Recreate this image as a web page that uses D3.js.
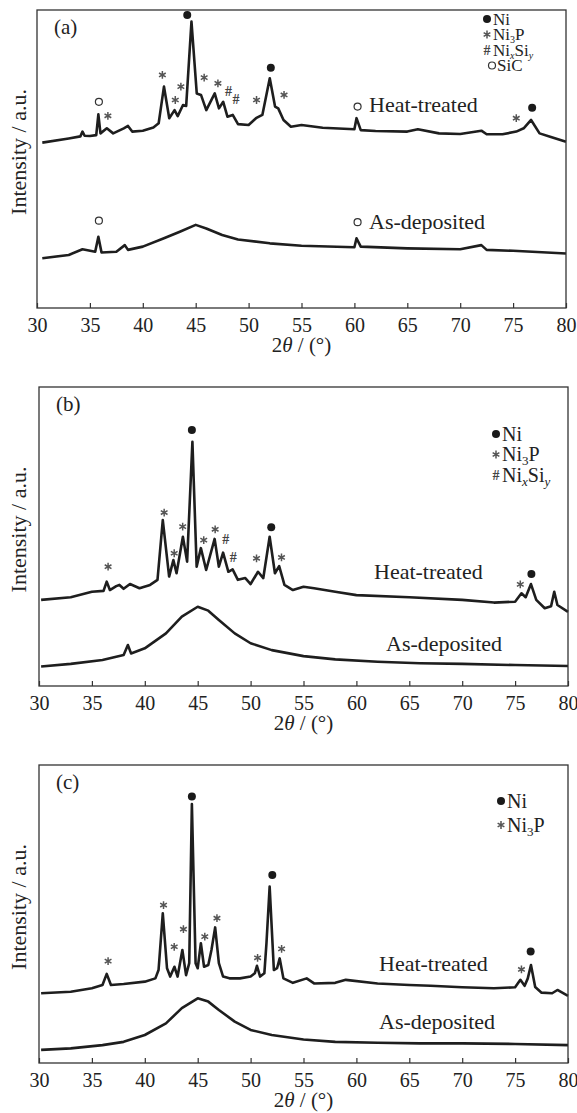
<!DOCTYPE html>
<html>
<head>
<meta charset="utf-8">
<script src="https://cdn.jsdelivr.net/npm/d3@7"></script>
<style>
  body { margin: 0; background: #fff; }
  svg text { font-family: "Liberation Serif", "Times New Roman", serif; fill: #222; }
</style>
</head>
<body>
<div id="chart"></div>
<script>
// x ticks (2theta, degrees)
const angleTicks = [30, 35, 40, 45, 50, 55, 60, 65, 70, 75, 80];

// ---- panel (a): [2theta, intensity a.u.] ----
const heatA = [[30.5,55.5],[33,56.9],[34.1,57.6],[34.3,59.2],[34.5,57.8],[35,57.7],[35.6,58],[35.8,65],[36,58.6],[36.6,60.3],
  [37.2,58.6],[38.2,60.3],[38.6,61.1],[39,59.2],[40,59.5],[41,60.6],[41.5,62],[42,74.3],[42.5,63.7],[43,66.4],
  [43.3,64.4],[43.8,68.1],[44.1,67.8],[44.6,96.1],[45.1,72],[45.5,71.5],[46,66.4],[46.8,72],[47.2,67],[47.6,69.2],
  [48,64.2],[48.5,64.8],[49,61.7],[50,61.4],[50.7,63.7],[51.3,64.8],[52,77.1],[52.5,67.6],[52.8,67],[53.3,63.1],
  [54,60.8],[55,61.4],[57,60.5],[60,60],[60.2,63.7],[60.6,59.7],[62,59.4],[65,59.2],[66,60],[68,58.6],[70,58.4],
  [72,59.5],[72.5,58.3],[74,58.3],[75.3,59.2],[76,60.3],[76.7,63.1],[77.5,58.6],[78.5,57.5],[80,55.8]];
const asDepA = [[30.5,16.7],[33,17.8],[34.3,19.7],[35.5,18.9],[35.8,23.9],[36.1,18.6],[37.5,18.9],[38.3,21.1],
  [38.6,19.5],[40,20.6],[42,23.4],[43.5,25.6],[45,27.9],[46,26.7],[47.5,24.5],[49,23],[52,21.7],[55,20.9],
  [60,20.4],[60.2,23.4],[60.6,20.6],[65,20],[70,19.7],[72,21.1],[72.5,19.5],[75,19.2],[80,18.3]];
const niA = [[44.2,98.3],[52.1,80.6],[76.8,67.2]];
const ni3pA = [[41.85,78.2],[43.07,69.8],[43.6,74.3],[45.8,77.3],[47.1,75.4],[50.75,69.8],[53.35,71.5],[36.7,64.5],[75.3,63.7]];
const nisiA = [[48.1,72.9],[48.8,70]];
const sicA = [[35.85,69.2],[60.3,67.6],[35.85,29.3],[60.3,28.8]];

// ---- panel (b) ----
const heatB = [[30.2,28.8],[33,29.7],[35,31.5],[36.1,31.8],[36.4,34.9],[36.7,32.1],[37.3,33.4],[37.6,33.8],[38,32.5],
  [38.6,34.1],[39.5,32.7],[40.5,33.8],[41.2,35.5],[41.7,55.5],[42.3,36.6],[42.7,42.1],[43,37.7],[43.6,49.9],
  [44,41.6],[44.5,81.7],[44.9,39.9],[45.3,46.1],[45.8,38.8],[46.6,49.2],[47,39.9],[47.4,44.6],[47.9,38.2],
  [48.3,39],[48.8,35.5],[49.5,36.1],[50,34.1],[50.7,38.2],[51.2,36.1],[51.8,49.9],[52.3,37.7],[52.7,40.1],
  [53.2,33.8],[54,32.1],[55,33.2],[56,32.7],[58,31.5],[60,30.4],[65,29.7],[70,28.8],[73,27.9],[75,28.2],
  [75.6,31],[76,29.7],[76.5,34.1],[77,28.8],[77.8,26],[78.4,26.7],[78.7,31.5],[79,27.1],[80,24.8]];
const asDepB = [[30.2,6.5],[33,7.4],[36,8.7],[38,10.4],[38.4,13.7],[38.7,10.9],[40,12.6],[42,17.6],[43.5,23.2],
  [45,26.5],[46,25.2],[47,22.1],[48.5,17.6],[50,14.3],[52,12],[55,10],[58,8.9],[62,8.1],[66,7.6],[70,7.4],
  [75,7],[80,6.7]];
const niB = [[44.45,85.6],[51.95,53.1],[76.54,37.5]];
const ni3pB = [[41.83,58],[42.78,44.4],[43.58,53.3],[45.57,48.8],[46.65,52.4],[50.56,42.7],[52.92,43],[36.53,39.9],[75.49,34]];
const nisiB = [[47.66,49.2],[48.36,43.2]];

// ---- panel (c) ----
const heatC = [[30.2,23.4],[33,23.9],[35,25.1],[36,26.2],[36.4,29.9],[36.8,26.2],[38,26.5],[40,27.3],[41,28.4],
  [41.3,31.2],[41.7,50.2],[42.1,31.8],[42.4,29],[42.8,32.3],[43.1,29],[43.55,37.9],[43.9,29.5],[44.2,33.5],
  [44.45,86.9],[44.8,33.5],[45,31.8],[45.3,40.2],[45.6,32.3],[46,32.9],[46.3,37.9],[46.65,45.5],[47,33.5],
  [47.4,29],[48,28.4],[49,28.4],[50,29],[50.4,30.1],[50.6,32.6],[50.9,29],[51.3,30.1],[51.5,40.2],[51.8,59.2],
  [52.2,31.2],[52.5,31.8],[52.75,35.1],[53.1,28.4],[54,26.9],[55.3,28.4],[56,26.7],[58,26.9],[59,27.9],[62,26.7],
  [65,26.2],[67,25.9],[70,25.4],[73,25.1],[75,25.4],[75.5,27.9],[75.9,25.9],[76.2,28.4],[76.5,32.9],[76.9,25.5],
  [77.5,23.6],[78.5,23.4],[79,24.5],[80,22.5]];
const asDepC = [[30.2,4.4],[33,4.9],[36,6],[38,7.1],[40,9.4],[42,13.3],[43.5,18.4],[45,21.7],[46,20.6],[47,17.8],
  [48.5,13.9],[50,11.1],[52,9.4],[55,7.9],[58,7.1],[62,6.8],[66,6.6],[70,6.6],[75,6.4],[80,6]];
const niC = [[44.45,89.4],[52.05,63.1],[76.47,37.4]];
const ni3pC = [[41.77,53],[42.78,39],[43.65,44.9],[45.67,42.4],[46.82,48.6],[50.66,35.3],[52.93,38.3],[36.53,34.2],[75.6,31.4]];

// layout of the three stacked panels
const panels = [
  { tag: '(a)', left: 37, right: 566, top: 10, bottom: 308,
    heat: heatA, asDep: asDepA, ni: niA, ni3p: ni3pA, nisi: nisiA, sic: sicA,
    heatLbl: [369, 112], asLbl: [369, 229],
    legend: { x: 487, y: 19, dy: 15.5, fs: 17, sub: 10, items: ['ni', 'ni3p', 'nisi', 'sic'] } },
  { tag: '(b)', left: 39, right: 568, top: 387, bottom: 686,
    heat: heatB, asDep: asDepB, ni: niB, ni3p: ni3pB, nisi: nisiB, sic: [],
    heatLbl: [374, 579], asLbl: [386, 651],
    legend: { x: 496, y: 434, dy: 20.5, fs: 20, sub: 13, items: ['ni', 'ni3p', 'nisi'] } },
  { tag: '(c)', left: 39, right: 568, top: 765, bottom: 1063,
    heat: heatC, asDep: asDepC, ni: niC, ni3p: ni3pC, nisi: [], sic: [],
    heatLbl: [379, 971], asLbl: [379, 1029],
    legend: { x: 501, y: 801, dy: 24, fs: 20, sub: 13, items: ['ni', 'ni3p'] } }
];

const serif = '"Liberation Serif", "Times New Roman", serif';
const svg = d3.select('#chart').append('svg')
  .attr('width', 577).attr('height', 1113);

const lineCol = '#1e1e1e';
const starCol = '#555';

function drawNi(g, x, y) {
  g.append('circle').attr('cx', x).attr('cy', y).attr('r', 4).attr('fill', '#1a1a1a');
}
function drawStar(g, x, y) {
  g.append('path').attr('transform', `translate(${x},${y})`)
    .attr('d', d3.symbol(d3.symbolAsterisk, 42)())
    .attr('stroke', starCol).attr('stroke-width', 1.5).attr('fill', 'none');
}
function drawHash(g, x, y) {
  g.append('text').attr('x', x).attr('y', y + 5).attr('text-anchor', 'middle')
    .style('font-size', '14px').style('font-weight', 'bold').style('fill', '#444').text('#');
}
function drawSic(g, x, y) {
  g.append('circle').attr('cx', x).attr('cy', y).attr('r', 3.5)
    .attr('fill', '#fff').attr('stroke', '#333').attr('stroke-width', 1.2);
}

panels.forEach(function(p) {
  const x = d3.scaleLinear().domain([30, 80]).range([p.left, p.right]);
  const y = d3.scaleLinear().domain([0, 100]).range([p.bottom, p.top]);
  const g = svg.append('g');

  const line = d3.line().x(d => x(d[0])).y(d => y(d[1]));
  [p.heat, p.asDep].forEach(function(s) {
    g.append('path').datum(s).attr('d', line)
      .attr('fill', 'none').attr('stroke', lineCol)
      .attr('stroke-width', 2.6).attr('stroke-linejoin', 'round');
  });

  // frame
  g.append('rect').attr('x', p.left).attr('y', p.top)
    .attr('width', p.right - p.left).attr('height', p.bottom - p.top)
    .attr('fill', 'none').attr('stroke', '#333').attr('stroke-width', 1.3);

  // bottom axis, ticks pointing inward
  const ax = g.append('g').attr('transform', `translate(0,${p.bottom})`)
    .call(d3.axisBottom(x).tickValues(angleTicks).tickSizeInner(-5).tickSizeOuter(0).tickPadding(10));
  ax.attr('font-family', serif).attr('font-size', 20);
  ax.select('.domain').remove();
  ax.selectAll('line').attr('stroke', '#333').attr('stroke-width', 1.2);
  ax.selectAll('text').style('font-size', '20px').style('font-family', serif).style('fill', '#222');

  // x title
  const xt = g.append('text').attr('x', (p.left + p.right) / 2).attr('y', p.bottom + 44)
    .attr('text-anchor', 'middle').style('font-size', '21px');
  xt.append('tspan').text('2');
  xt.append('tspan').style('font-style', 'italic').text('θ');
  xt.append('tspan').text(' / (°)');

  // y title
  const yc = (p.top + p.bottom) / 2 - 7;
  g.append('text').attr('transform', `translate(26,${yc}) rotate(-90)`)
    .attr('text-anchor', 'middle').style('font-size', '22px').text('Intensity / a.u.');

  // panel tag
  g.append('text').attr('x', p.left + 17).attr('y', p.top + 24)
    .style('font-size', '21px').text(p.tag);

  // phase markers
  p.ni.forEach(d => drawNi(g, x(d[0]), y(d[1])));
  p.ni3p.forEach(d => drawStar(g, x(d[0]), y(d[1])));
  p.nisi.forEach(d => drawHash(g, x(d[0]), y(d[1])));
  p.sic.forEach(d => drawSic(g, x(d[0]), y(d[1])));

  // curve labels
  g.append('text').attr('x', p.heatLbl[0]).attr('y', p.heatLbl[1])
    .style('font-size', '22px').text('Heat-treated');
  g.append('text').attr('x', p.asLbl[0]).attr('y', p.asLbl[1])
    .style('font-size', '22px').text('As-deposited');

  // legend
  const lg = p.legend;
  const sd = Math.round(lg.sub * 0.3);
  lg.items.forEach(function(k, i) {
    const cy = lg.y + i * lg.dy;
    const t = g.append('text').attr('x', lg.x + 6).attr('y', cy + lg.fs * 0.33)
      .style('font-size', lg.fs + 'px');
    if (k === 'ni') {
      drawNi(g, lg.x, cy);
      t.text('Ni');
    } else if (k === 'ni3p') {
      drawStar(g, lg.x, cy);
      t.append('tspan').text('Ni');
      t.append('tspan').attr('dy', sd).style('font-size', lg.sub + 'px').text('3');
      t.append('tspan').attr('dy', -sd).text('P');
    } else if (k === 'nisi') {
      drawHash(g, lg.x, cy);
      t.append('tspan').text('Ni');
      t.append('tspan').attr('dy', sd).style('font-size', lg.sub + 'px').style('font-style', 'italic').text('x');
      t.append('tspan').attr('dy', -sd).text('Si');
      t.append('tspan').attr('dy', sd).style('font-size', lg.sub + 'px').style('font-style', 'italic').text('y');
    } else if (k === 'sic') {
      drawSic(g, lg.x + 5, cy);
      t.attr('x', lg.x + 10).text('SiC');
    }
  });
});
</script>
</body>
</html>
